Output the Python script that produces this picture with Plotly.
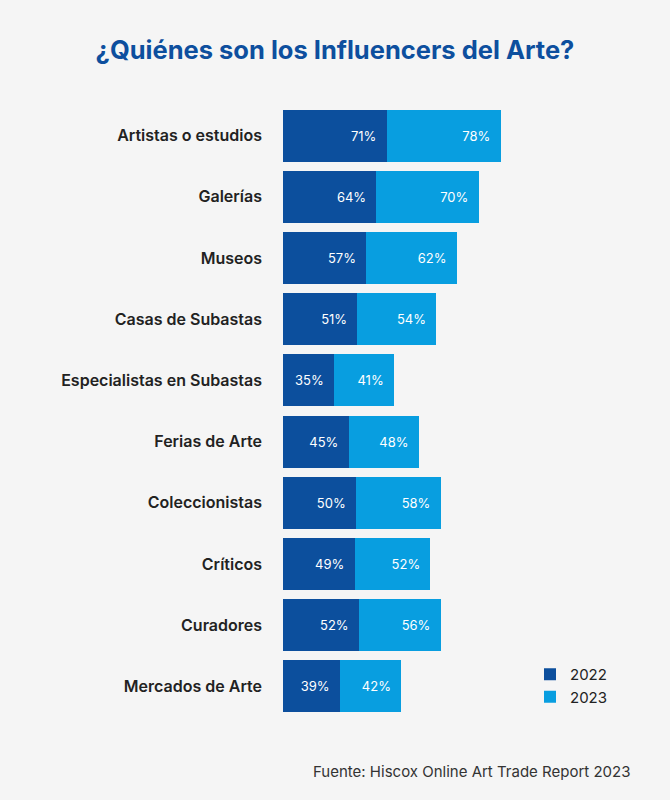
import plotly.graph_objects as go

categories = ["Artistas o estudios", "Galerías", "Museos", "Casas de Subastas",
              "Especialistas en Subastas", "Ferias de Arte", "Coleccionistas",
              "Críticos", "Curadores", "Mercados de Arte"]
values_2022 = [71, 64, 57, 51, 35, 45, 50, 49, 52, 39]
values_2023 = [78, 70, 62, 54, 41, 48, 58, 52, 56, 42]
series_names = ["2022", "2023"]
title_text = "¿Quiénes son los Influencers del Arte?"
source_text = "Fuente: Hiscox Online Art Trade Report 2023"

DARK = "#0c4f9d"
LIGHT = "#089ee0"
BG = "#f5f5f5"
FONT = "Inter"

fig = go.Figure()
for name, vals, col in [(series_names[0], values_2022, DARK), (series_names[1], values_2023, LIGHT)]:
    fig.add_trace(go.Bar(
        y=categories, x=vals, name=name, orientation="h",
        marker=dict(color=col, line=dict(width=0)),
        texttemplate="%{x}%\u00a0\u00a0", textposition="inside",
        insidetextanchor="end",
        textfont=dict(color="white", size=13, family=FONT),
        hoverinfo="skip",
    ))

fig.update_layout(
    width=670, height=800,
    barmode="stack", bargap=0.15,
    paper_bgcolor=BG, plot_bgcolor=BG,
    margin=dict(l=283, r=168, t=105, b=83),
    font=dict(family=FONT, color="#222222"),
    title=dict(text="<b>" + title_text + "</b>", x=0.5, xanchor="center",
               y=1 - 50 / 800, yanchor="middle", yref="container",
               font=dict(size=25.5, color="#0d4f9e", family=FONT)),
    xaxis=dict(range=[0, 150], visible=False, fixedrange=True),
    yaxis=dict(autorange="reversed", showgrid=False, zeroline=False, showline=False,
               ticks="", ticklabelstandoff=20, fixedrange=True,
               tickfont=dict(size=16, color="#222222", family="Inter SemiBold, Inter")),
    legend=dict(xref="container", yref="container", x=530 / 670, y=1 - 658 / 800,
                xanchor="left", yanchor="top", bgcolor="rgba(0,0,0,0)",
                font=dict(size=15, color="#222222", family=FONT),
                traceorder="normal", itemclick=False),
    showlegend=True,
    annotations=[dict(text=source_text, xref="paper", yref="paper",
                      x=(632 - 283) / 219, y=-(771 - 717) / 612,
                      xanchor="right", yanchor="middle",
                      showarrow=False, font=dict(size=15, color="#333333", family=FONT))],
)

fig.write_html("out.html", config={"displayModeBar": False},
               post_script="document.body.style.margin='0';")
